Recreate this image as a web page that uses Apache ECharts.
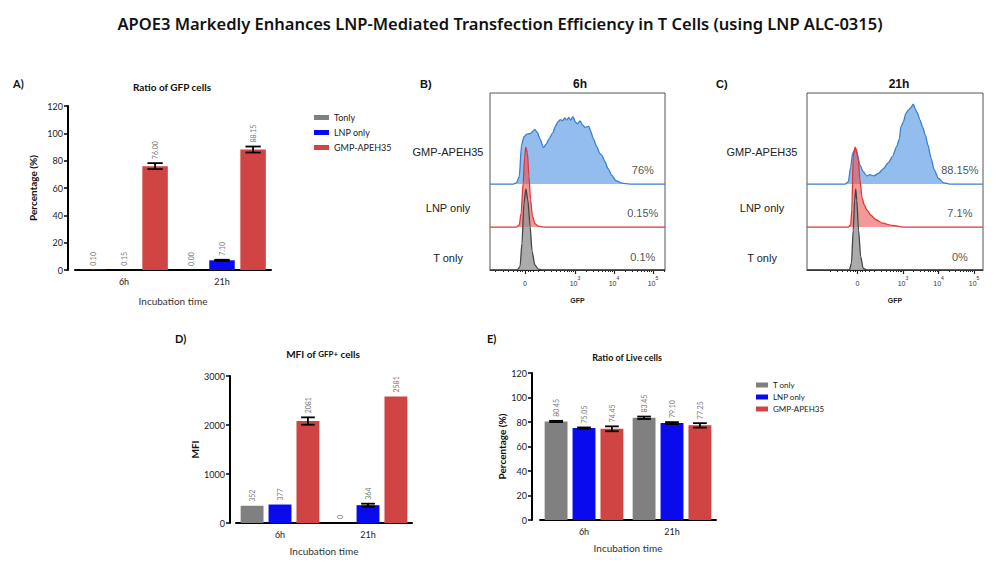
<!DOCTYPE html>
<html>
<head>
<meta charset="utf-8">
<title>APOE3 LNP transfection in T cells</title>
<script src="https://cdn.jsdelivr.net/npm/echarts@6/dist/echarts.min.js"></script>
<style>
html, body { margin: 0; padding: 0; background: #fff; }
#chart { width: 1000px; height: 570px; }
</style>
</head>
<body>
<div id="chart"></div>
<script>
// 时间点
var times = ['6h', '21h'];

// A) GFP+ 比例 (%)
var gfpTonly = [0.10, 0.00];
var gfpLnp = [0.15, 7.10];
var gfpApeh = [76.00, 88.15];
var gfpTonlyErr = [0, 0];
var gfpLnpErr = [0, 0.4];
var gfpApehErr = [2.2, 2.2];

// D) GFP+ 细胞 MFI
var mfiTonly = [352, 0];
var mfiLnp = [377, 364];
var mfiApeh = [2081, 2581];
var mfiTonlyErr = [0, 0];
var mfiLnpErr = [0, 30];
var mfiApehErr = [75, 0];

// E) 活细胞比例 (%)
var liveTonly = [80.45, 83.45];
var liveLnp = [75.05, 79.10];
var liveApeh = [74.45, 77.25];
var liveTonlyErr = [0.5, 1.0];
var liveLnpErr = [0.5, 0.8];
var liveApehErr = [2.0, 1.8];

// B/C) 流式直方图: x = GFP 轴位置 (10^3 -> 3), y = 行高倍数
var hist6hApeh = [[1.42,0],[1.50,0.03],[1.57,0.17],[1.63,0.91],[1.69,1.10],[1.76,1.16],[1.86,1.18],[1.93,1.24],[1.97,1.27],[2.03,1.21],[2.10,1.06],[2.19,0.85],[2.26,0.93],[2.34,1.06],[2.43,1.19],[2.50,1.35],[2.56,1.45],[2.63,1.50],[2.68,1.47],[2.74,1.54],[2.79,1.49],[2.84,1.55],[2.89,1.49],[2.95,1.57],[3.01,1.45],[3.06,1.40],[3.13,1.47],[3.20,1.37],[3.26,1.32],[3.35,1.35],[3.40,1.24],[3.47,1.06],[3.56,0.87],[3.64,0.71],[3.69,0.67],[3.77,0.52],[3.85,0.36],[3.94,0.21],[4.05,0.08],[4.20,0.02],[4.41,0]];
var hist6hLnp = [[1.50,0],[1.57,0.05],[1.62,0.33],[1.67,1.02],[1.71,1.63],[1.74,1.86],[1.78,1.72],[1.82,1.18],[1.86,0.64],[1.91,0.25],[1.97,0.08],[2.06,0.02],[2.19,0]];
var hist6hTonly = [[1.52,0],[1.59,0.08],[1.64,0.62],[1.69,1.55],[1.74,1.89],[1.79,1.63],[1.85,1.01],[1.90,0.43],[1.97,0.12],[2.06,0.02],[2.19,0]];
var hist21hApeh = [[1.37,0],[1.46,0.05],[1.53,0.40],[1.58,0.71],[1.65,0.81],[1.71,0.71],[1.79,0.44],[1.88,0.29],[1.98,0.19],[2.07,0.22],[2.18,0.19],[2.31,0.25],[2.45,0.36],[2.59,0.50],[2.71,0.65],[2.82,0.87],[2.90,1.06],[2.94,1.33],[3.01,1.45],[3.08,1.64],[3.15,1.72],[3.22,1.78],[3.29,1.86],[3.35,1.74],[3.40,1.66],[3.48,1.49],[3.55,1.33],[3.63,1.14],[3.70,0.91],[3.79,0.60],[3.88,0.33],[4.00,0.13],[4.14,0.03],[4.32,0]];
var hist21hLnp = [[1.46,0],[1.53,0.05],[1.56,0.40],[1.60,1.64],[1.65,1.86],[1.69,1.80],[1.74,1.57],[1.79,1.10],[1.85,0.67],[1.91,0.52],[1.98,0.40],[2.09,0.28],[2.24,0.17],[2.43,0.09],[2.68,0.04],[3.01,0]];
var hist21hTonly = [[1.49,0],[1.55,0.16],[1.60,0.93],[1.64,1.63],[1.67,1.88],[1.70,1.63],[1.75,0.93],[1.81,0.31],[1.88,0.04],[1.98,0]];

var histRows = ['T only', 'LNP only', 'GMP-APEH35'];
var pct6h = ['0.1%', '0.15%', '76%'];
var pct21h = ['0%', '7.1%', '88.15%'];
var gfpDecades = [3, 4, 5];

var GRAY = '#808080', BLUE = '#0a0aee', RED = '#d04444';
var BAR_W = 0.26, BAR_GAP = 0.22;
var LATO = 'Lato', ARIAL = 'Liberation Sans';

var chart = echarts.init(document.getElementById('chart'), null, { renderer: 'svg' });

function barSeries(name, data, color, idx) {
    return {
        type: 'bar', name: name, data: data,
        xAxisIndex: idx, yAxisIndex: idx,
        barWidth: (BAR_W * 100) + '%', barGap: (BAR_GAP * 100) + '%',
        itemStyle: { color: color }, silent: true
    };
}

// 误差线 + 竖排数值标签
function errSeries(values, errs, idx, digits) {
    var data = [];
    values.forEach(function (vals, s) {
        vals.forEach(function (v, c) { data.push([c, v, errs[s][c], s]); });
    });
    return {
        type: 'custom', xAxisIndex: idx, yAxisIndex: idx, z: 5, silent: true,
        data: data,
        renderItem: function (params, api) {
            var c = api.value(0), v = api.value(1), e = api.value(2), s = api.value(3);
            var band = api.size([1, 0])[0];
            var w = band * BAR_W;
            var cx = api.coord([c, v])[0] + (s - 1) * w * (1 + BAR_GAP);
            var yTop = api.coord([c, v + e])[1];
            var yBot = api.coord([c, Math.max(0, v - e)])[1];
            var hw = w * 0.3;
            var ls = { stroke: '#000', lineWidth: 1.8 };
            var kids = [];
            if (e > 0) {
                kids.push({ type: 'line', shape: { x1: cx, y1: yTop, x2: cx, y2: yBot }, style: ls });
                kids.push({ type: 'line', shape: { x1: cx - hw, y1: yTop, x2: cx + hw, y2: yTop }, style: ls });
                kids.push({ type: 'line', shape: { x1: cx - hw, y1: yBot, x2: cx + hw, y2: yBot }, style: ls });
            }
            kids.push({
                type: 'text', x: cx, y: yTop - 4, rotation: Math.PI / 2,
                style: { text: v.toFixed(digits), fontSize: 7, fill: '#777', fontFamily: LATO, align: 'left', verticalAlign: 'middle' }
            });
            return { type: 'group', children: kids };
        }
    };
}

function catAxis(idx, gap) {
    return {
        type: 'category', gridIndex: idx, data: times,
        axisLine: { lineStyle: { color: '#000', width: 2 } },
        axisTick: { alignWithLabel: true, length: 4, lineStyle: { color: '#000', width: 2 } },
        axisLabel: { fontSize: 9, color: '#222', margin: 7, fontFamily: LATO },
        name: 'Incubation time', nameLocation: 'middle', nameGap: gap,
        nameTextStyle: { fontSize: 10, color: '#333', fontFamily: LATO }
    };
}

function valAxis(idx, max, step, name, gap, offset) {
    return {
        type: 'value', gridIndex: idx, min: 0, max: max, interval: step, offset: offset,
        axisLine: { show: true, lineStyle: { color: '#000', width: 2 } },
        axisTick: { show: true, length: 4, lineStyle: { color: '#000', width: 1.5 } },
        axisLabel: {
            fontSize: 9, color: '#222', margin: 5, fontFamily: LATO,
            formatter: function (v) { return String(v); }
        },
        splitLine: { show: false },
        name: name, nameLocation: 'middle', nameRotate: 90, nameGap: gap,
        nameTextStyle: { fontSize: 10, fontWeight: 'bold', color: '#111', fontFamily: LATO }
    };
}

// GFP 轴 (双指数刻度)
var gfpZero = 1.72;
var gfpMinor = [0.95, 1.15, 1.3, 1.42, 1.52, 1.6, 1.65, 1.79, 1.85, 1.93, 2.05, 2.2, 2.38, 2.52, 2.63, 2.72, 2.8, 2.86, 2.91, 2.96];
[3, 4, 5].forEach(function (d) {
    for (var k = 2; k <= 9; k++) gfpMinor.push(d + Math.log10(k));
});

function gfpAxes(idx, min, max) {
    var major = [gfpZero].concat(gfpDecades);
    return [{
        type: 'value', gridIndex: idx, min: min, max: max, position: 'bottom',
        axisLine: { show: true, lineStyle: { color: '#222', width: 1 } },
        axisTick: { show: true, customValues: major, length: 4, lineStyle: { color: '#222', width: 1.2 } },
        axisLabel: {
            customValues: major, color: '#333', margin: 5,
            formatter: function (v) { return v < 2.5 ? '{n|0}' : '{n|10}{s|' + Math.round(v) + '}'; },
            rich: {
                n: { fontSize: 7, fontFamily: ARIAL, color: '#333', lineHeight: 12, verticalAlign: 'bottom' },
                s: { fontSize: 5, fontFamily: ARIAL, color: '#333', lineHeight: 12, verticalAlign: 'top' }
            }
        },
        splitLine: { show: false },
        name: 'GFP', nameLocation: 'middle', nameGap: 27,
        nameTextStyle: { fontSize: 7, fontWeight: 'bold', color: '#222', fontFamily: ARIAL }
    }, {
        type: 'value', gridIndex: idx, min: min, max: max, position: 'bottom',
        axisLine: { show: false },
        axisTick: { show: true, customValues: gfpMinor.filter(function (v) { return v > min && v < max; }), length: 2, lineStyle: { color: '#222', width: 1 } },
        axisLabel: { show: false },
        splitLine: { show: false }
    }];
}

var rowLabelPos = [0.28, 1.44, 2.74];
function rowAxis(idx, margin) {
    return {
        type: 'value', gridIndex: idx, min: 0, max: 4.12,
        axisLine: { show: false }, axisTick: { show: false }, splitLine: { show: false },
        axisLabel: {
            customValues: rowLabelPos, align: 'center', margin: margin,
            fontSize: 11, color: '#222', fontFamily: ARIAL,
            formatter: function (v) { return histRows[rowLabelPos.indexOf(v)]; }
        }
    };
}

function histSeries(pts, base, line, fill, xi, yi, min, max) {
    var data = [[min, base]].concat(pts.map(function (p) { return [p[0], p[1] + base]; }), [[max, base]]);
    return {
        type: 'line', xAxisIndex: xi, yAxisIndex: yi, data: data,
        showSymbol: false, symbol: 'none', smooth: 0.25, smoothMonotone: 'x', silent: true,
        lineStyle: { color: line, width: 1.3 },
        areaStyle: { color: fill, origin: base, opacity: 1 }
    };
}

function pctSeries(labels, xPos, xi, yi) {
    var ys = [0.30, 1.32, 2.33];
    return {
        type: 'scatter', xAxisIndex: xi, yAxisIndex: yi, symbolSize: 0, silent: true,
        data: labels.map(function (t, i) { return [xPos, ys[i], t]; }),
        label: {
            show: true, position: 'inside', fontSize: 11, color: '#222', fontFamily: ARIAL,
            formatter: function (p) { return p.data[2]; }
        }
    };
}

var bMin = 0.82, bMax = 5.31, cMin = 0.30, cMax = 5.25;

function txt(x, y, text, size, opts) {
    opts = opts || {};
    return {
        type: 'text', x: x, y: y, silent: true,
        style: {
            text: text, fontSize: size, fontWeight: opts.weight || 'bold',
            fontFamily: opts.family || LATO, fill: opts.color || '#111',
            align: opts.align || 'center', verticalAlign: 'middle', rich: opts.rich
        }
    };
}

var gfpB = gfpAxes(3, bMin, bMax), gfpC = gfpAxes(4, cMin, cMax);

chart.setOption({
    backgroundColor: '#fff',
    animation: false,
    graphic: [
        txt(500, 23, 'APOE3 Markedly Enhances LNP-Mediated Transfection Efficiency in T Cells (using LNP ALC-0315)', 16.5, { family: 'Noto Sans', weight: 600 }),
        txt(13, 83, 'A)', 11, { align: 'left' }),
        txt(172, 87, 'Ratio of GFP cells', 10),
        txt(420, 84, 'B)', 11, { align: 'left', family: ARIAL }),
        txt(580, 84, '6h', 12, { family: ARIAL }),
        txt(716, 84, 'C)', 11, { align: 'left', family: ARIAL }),
        txt(899, 84, '21h', 12, { family: ARIAL }),
        txt(175, 338, 'D)', 11, { align: 'left' }),
        txt(323, 354, 'MFI of {s|GFP+} cells', 10, { rich: { s: { fontSize: 8, fontWeight: 'bold', fontFamily: LATO, fill: '#111' } } }),
        txt(487, 338, 'E)', 11, { align: 'left' }),
        txt(627, 357, 'Ratio of Live cells', 9)
    ],
    legend: [{
        orient: 'vertical', left: 309, top: 108, itemWidth: 15, itemHeight: 5, itemGap: 6,
        icon: 'rect', data: ['Tonly', 'LNP only', 'GMP-APEH35'],
        textStyle: { fontSize: 9, color: '#222', fontFamily: LATO }, selectedMode: false
    }, {
        orient: 'vertical', left: 751, top: 376, itemWidth: 12, itemHeight: 5, itemGap: 4,
        icon: 'rect', data: ['T only', 'LNP only', 'GMP-APEH35'],
        textStyle: { fontSize: 8, color: '#222', fontFamily: LATO }, selectedMode: false
    }],
    grid: [
        { left: 75, top: 106, width: 196, height: 164, outerBoundsMode: 'none' },
        { left: 236, top: 376, width: 176, height: 147, outerBoundsMode: 'none' },
        { left: 540, top: 373, width: 176, height: 147, outerBoundsMode: 'none' },
        { left: 490, top: 93, width: 175, height: 177, show: true, borderColor: '#555', borderWidth: 1, outerBoundsMode: 'none' },
        { left: 807, top: 93, width: 176, height: 177, show: true, borderColor: '#555', borderWidth: 1, outerBoundsMode: 'none' }
    ],
    xAxis: [catAxis(0, 26), catAxis(1, 23), catAxis(2, 23), gfpB[0], gfpB[1], gfpC[0], gfpC[1]],
    yAxis: [
        valAxis(0, 120, 20, 'Percentage (%)', 30, 7),
        valAxis(1, 3000, 1000, 'MFI', 30, 6),
        valAxis(2, 120, 20, 'Percentage (%)', 22, 8),
        rowAxis(3, 42),
        rowAxis(4, 45)
    ],
    series: [
        barSeries('Tonly', gfpTonly, GRAY, 0),
        barSeries('LNP only', gfpLnp, BLUE, 0),
        barSeries('GMP-APEH35', gfpApeh, RED, 0),
        errSeries([gfpTonly, gfpLnp, gfpApeh], [gfpTonlyErr, gfpLnpErr, gfpApehErr], 0, 2),

        barSeries('T only', mfiTonly, GRAY, 1),
        barSeries('LNP only', mfiLnp, BLUE, 1),
        barSeries('GMP-APEH35', mfiApeh, RED, 1),
        errSeries([mfiTonly, mfiLnp, mfiApeh], [mfiTonlyErr, mfiLnpErr, mfiApehErr], 1, 0),

        barSeries('T only', liveTonly, GRAY, 2),
        barSeries('LNP only', liveLnp, BLUE, 2),
        barSeries('GMP-APEH35', liveApeh, RED, 2),
        errSeries([liveTonly, liveLnp, liveApeh], [liveTonlyErr, liveLnpErr, liveApehErr], 2, 2),

        histSeries(hist6hApeh, 2, '#3a7fd2', '#92bdec', 3, 3, bMin, bMax),
        histSeries(hist6hLnp, 1, '#e0353a', 'rgba(232,84,84,0.6)', 3, 3, bMin, bMax),
        histSeries(hist6hTonly, 0, '#444', 'rgba(150,150,150,0.8)', 3, 3, bMin, bMax),
        pctSeries(pct6h, 4.74, 3, 3),

        histSeries(hist21hApeh, 2, '#3a7fd2', '#92bdec', 5, 4, cMin, cMax),
        histSeries(hist21hLnp, 1, '#e0353a', 'rgba(232,84,84,0.6)', 5, 4, cMin, cMax),
        histSeries(hist21hTonly, 0, '#444', 'rgba(150,150,150,0.8)', 5, 4, cMin, cMax),
        pctSeries(pct21h, 4.6, 5, 4)
    ]
});
</script>
</body>
</html>
